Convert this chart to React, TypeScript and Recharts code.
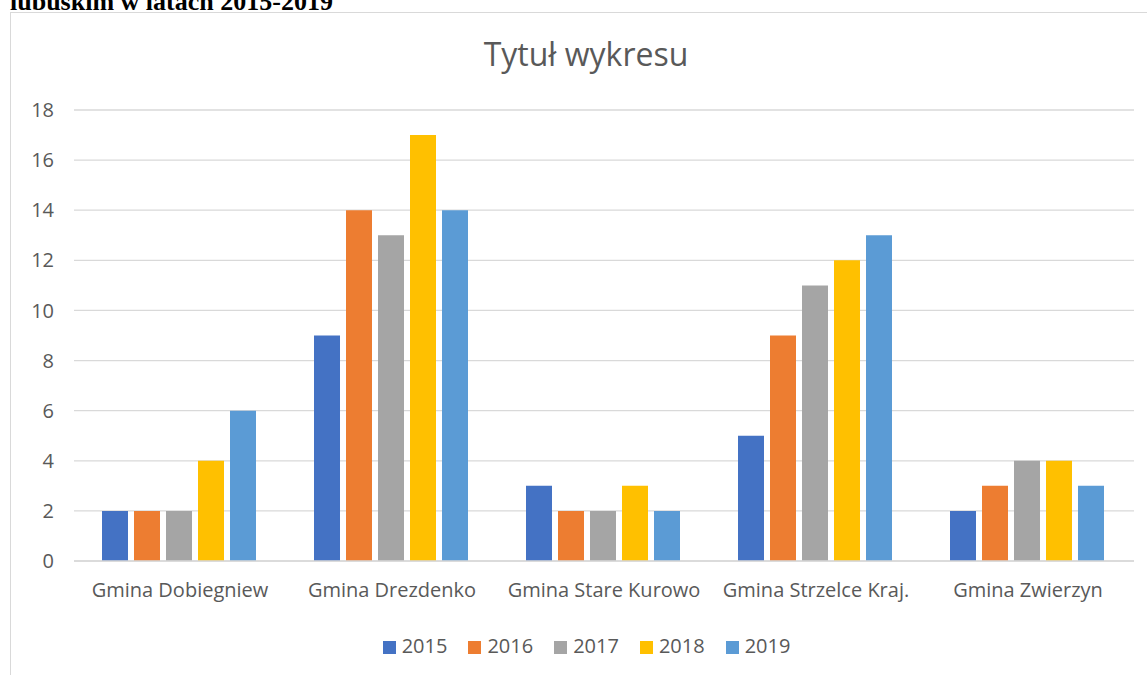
import { Bar, BarChart, CartesianGrid, Legend, XAxis, YAxis } from 'recharts'

const gminy = ['Gmina Dobiegniew', 'Gmina Drezdenko', 'Gmina Stare Kurowo', 'Gmina Strzelce Kraj.', 'Gmina Zwierzyn']
const y2015 = [2, 9, 3, 5, 2]
const y2016 = [2, 14, 2, 9, 3]
const y2017 = [2, 13, 2, 11, 4]
const y2018 = [4, 17, 3, 12, 4]
const y2019 = [6, 14, 2, 13, 3]
const yTicks = [0, 2, 4, 6, 8, 10, 12, 14, 16, 18]

const series = [
  { key: '2015', color: '#4472C4' },
  { key: '2016', color: '#ED7D31' },
  { key: '2017', color: '#A5A5A5' },
  { key: '2018', color: '#FFC000' },
  { key: '2019', color: '#5B9BD5' },
]

const data = gminy.map((name, i) => ({
  name,
  '2015': y2015[i],
  '2016': y2016[i],
  '2017': y2017[i],
  '2018': y2018[i],
  '2019': y2019[i],
}))

const FONT = '"Open Sans", "Noto Sans", sans-serif'
const GREY = '#595959'

export default function App() {
  return (
    <div>
      <div
        style={{
          position: 'absolute',
          left: 10,
          top: -13,
          fontFamily: '"Liberation Serif", "Times New Roman", serif',
          fontWeight: 'bold',
          fontSize: 26,
          whiteSpace: 'nowrap',
        }}
      >
        lubuskim w latach 2015-2019
      </div>
      <div
        style={{
          position: 'absolute',
          left: 10,
          top: 12,
          width: 1162,
          height: 680,
          border: '1px solid #d9d9d9',
          background: '#fff',
          fontFamily: FONT,
        }}
      >
        <div
          style={{
            position: 'absolute',
            left: 0,
            width: 1150,
            top: 19,
            textAlign: 'center',
            fontSize: 32,
            color: GREY,
          }}
        >
          Tytuł wykresu
        </div>
        <BarChart
          width={1162}
          height={668}
          data={data}
          margin={{ top: 97, right: 39, left: 0, bottom: 63 }}
          barCategoryGap={28}
          barGap={6}
        >
          <CartesianGrid stroke="#d9d9d9" strokeWidth={1.3} vertical={false} />
          <XAxis
            dataKey="name"
            height={30}
            tick={{ fill: GREY, fontSize: 20 }}
            axisLine={{ stroke: '#d9d9d9', strokeWidth: 1.3 }}
            tickLine={false}
            tickMargin={16}
            interval={0}
          />
          <YAxis
            domain={[0, 18]}
            ticks={yTicks}
            tick={{ fill: GREY, fontSize: 20 }}
            axisLine={false}
            tickLine={false}
            tickMargin={14}
            width={63}
          />
          <Legend
            verticalAlign="bottom"
            iconType="square"
            iconSize={13}
            wrapperStyle={{ fontSize: 20, left: 0, width: 1172, bottom: 22 }}
            formatter={(value) => (
              <span style={{ color: GREY, marginLeft: 2, marginRight: 11 }}>{value}</span>
            )}
          />
          {series.map((s) => (
            <Bar key={s.key} dataKey={s.key} fill={s.color} isAnimationActive={false} />
          ))}
        </BarChart>
      </div>
    </div>
  )
}
